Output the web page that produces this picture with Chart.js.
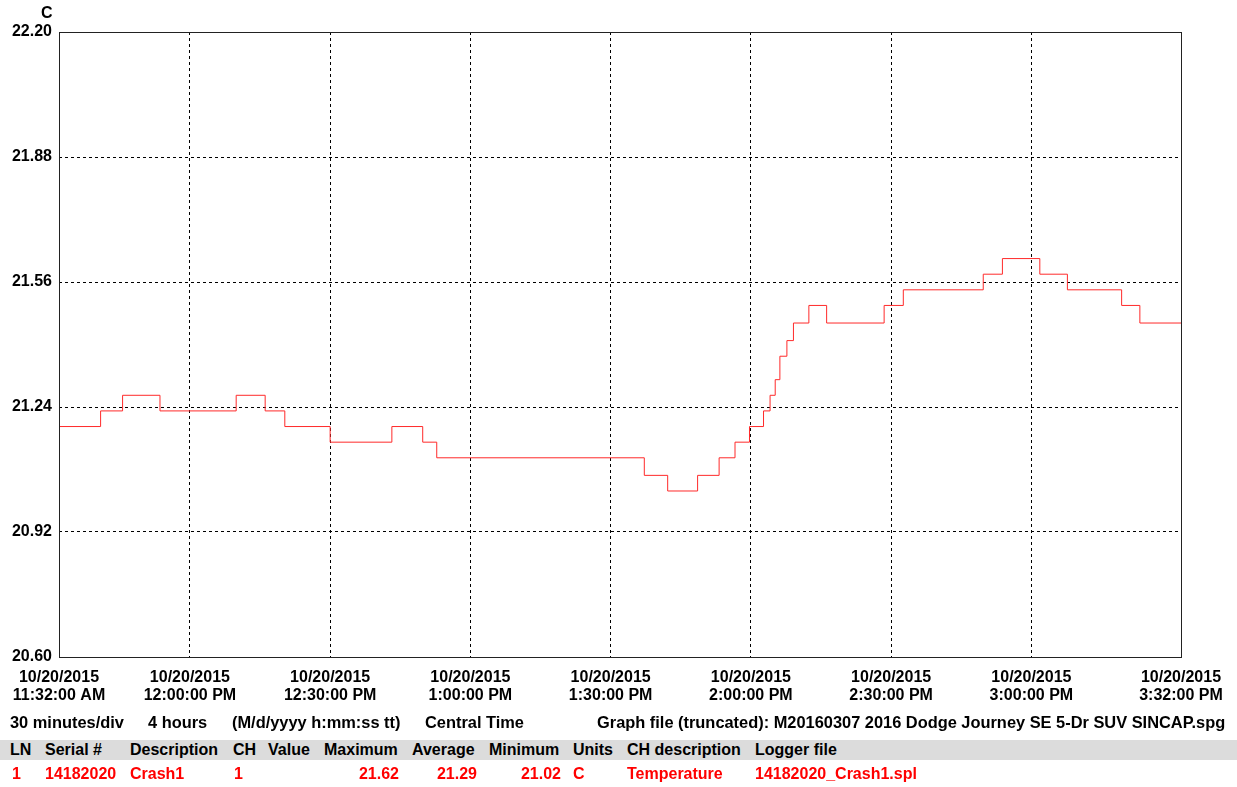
<!DOCTYPE html>
<html>
<head>
<meta charset="utf-8">
<script src="https://cdn.jsdelivr.net/npm/chart.js@4.4.1/dist/chart.umd.min.js"></script>
<style>
  html, body { margin: 0; padding: 0; background: #fff; }
  #wrap { position: relative; width: 1237px; height: 787px; overflow: hidden; font: bold 16px "Liberation Sans", Arial, sans-serif; }
  #wrap canvas { position: absolute; left: 0; top: 0; }
  .t { position: absolute; white-space: nowrap; line-height: 18px; height: 18px; }
  .w { font-size: 16.4px; }
  .r { color: #ff0000; }
  .ra { text-align: right; }
  #band { position: absolute; left: 0; top: 740px; width: 1237px; height: 20px; background: #dcdcdc; }
</style>
</head>
<body>
<div id="wrap">
  <canvas id="c" width="1237" height="787"></canvas>
  <div class="t" style="left:41px;top:4px;">C</div>

  <div class="t w" style="left:10px;top:713px;">30 minutes/div</div>
  <div class="t w" style="left:148px;top:713px;">4 hours</div>
  <div class="t w" style="left:232px;top:713px;">(M/d/yyyy h:mm:ss tt)</div>
  <div class="t w" style="left:425px;top:713px;">Central Time</div>
  <div class="t w" style="left:597px;top:713px;">Graph file (truncated): M20160307 2016 Dodge Journey SE 5-Dr SUV SINCAP.spg</div>

  <div id="band"></div>
  <div class="t" style="left:10px;top:741px;">LN</div>
  <div class="t" style="left:45px;top:741px;">Serial #</div>
  <div class="t" style="left:130px;top:741px;">Description</div>
  <div class="t" style="left:233px;top:741px;">CH</div>
  <div class="t" style="left:268px;top:741px;">Value</div>
  <div class="t" style="left:324px;top:741px;">Maximum</div>
  <div class="t" style="left:412px;top:741px;">Average</div>
  <div class="t" style="left:489px;top:741px;">Minimum</div>
  <div class="t" style="left:573px;top:741px;">Units</div>
  <div class="t" style="left:627px;top:741px;">CH description</div>
  <div class="t" style="left:755px;top:741px;">Logger file</div>

  <div class="t r" style="left:12px;top:765px;">1</div>
  <div class="t r" style="left:45px;top:765px;">14182020</div>
  <div class="t r" style="left:130px;top:765px;">Crash1</div>
  <div class="t r" style="left:234px;top:765px;">1</div>
  <div class="t r ra" style="left:300px;width:99px;top:765px;">21.62</div>
  <div class="t r ra" style="left:380px;width:97px;top:765px;">21.29</div>
  <div class="t r ra" style="left:460px;width:101px;top:765px;">21.02</div>
  <div class="t r" style="left:573px;top:765px;">C</div>
  <div class="t r" style="left:627px;top:765px;">Temperature</div>
  <div class="t r" style="left:755px;top:765px;">14182020_Crash1.spl</div>
</div>
<script>
// Time in minutes since 10/20/2015 11:32:00 AM at which each temperature level begins
const stepTimes = [0, 8.9, 13.6, 21.6, 37.9, 44.1, 48.3, 58.0, 71.2, 77.8, 80.8, 125.2, 130.2, 136.6, 141.2, 144.6, 147.7, 150.7, 152.1, 153.2, 154.2, 155.7, 157.1, 160.4, 164.2, 176.5, 180.6, 197.7, 201.8, 209.8, 215.7, 227.3, 231.2, 240];
// Temperature (C) of each level
const stepTemps = [21.19, 21.23, 21.27, 21.23, 21.27, 21.23, 21.19, 21.15, 21.19, 21.15, 21.11, 21.065, 21.025, 21.065, 21.11, 21.15, 21.19, 21.23, 21.27, 21.31, 21.37, 21.41, 21.455, 21.50, 21.455, 21.50, 21.54, 21.58, 21.62, 21.58, 21.54, 21.50, 21.455, 21.455];

const xTickMinutes = [0, 28, 58, 88, 118, 148, 178, 208, 240];
const xTickDates = ['10/20/2015', '10/20/2015', '10/20/2015', '10/20/2015', '10/20/2015', '10/20/2015', '10/20/2015', '10/20/2015', '10/20/2015'];
const xTickTimes = ['11:32:00 AM', '12:00:00 PM', '12:30:00 PM', '1:00:00 PM', '1:30:00 PM', '2:00:00 PM', '2:30:00 PM', '3:00:00 PM', '3:32:00 PM'];
const yTicks = [20.60, 20.92, 21.24, 21.56, 21.88, 22.20];

const points = stepTimes.map((t, i) => ({ x: t, y: stepTemps[i] }));

const framePlugin = {
  id: 'frame',
  afterDatasetsDraw(chart) {
    const a = chart.chartArea, ctx = chart.ctx;
    ctx.save();
    ctx.strokeStyle = '#222';
    ctx.lineWidth = 1;
    ctx.setLineDash([]);
    ctx.strokeRect(Math.round(a.left) + 0.5, Math.round(a.top) + 0.5, Math.round(a.right - a.left), Math.round(a.bottom - a.top));
    ctx.restore();
  }
};

const FONT = { family: '"Liberation Sans", Arial, sans-serif', size: 16, weight: 'bold', lineHeight: 1.12 };

new Chart(document.getElementById('c'), {
  type: 'line',
  data: {
    datasets: [{
      data: points,
      borderColor: '#ff2a2a',
      borderWidth: 1,
      pointRadius: 0,
      stepped: 'before',
      fill: false,
      tension: 0
    }]
  },
  options: {
    responsive: false,
    animation: false,
    events: [],
    layout: { padding: { left: 0, top: 32, right: 56, bottom: 70 } },
    plugins: { legend: { display: false }, tooltip: { enabled: false } },
    scales: {
      x: {
        type: 'linear',
        min: 0,
        max: 240,
        afterBuildTicks(scale) { scale.ticks = xTickMinutes.map(v => ({ value: v })); },
        afterFit(scale) { scale.height = 60; },
        ticks: {
          autoSkip: false,
          maxRotation: 0,
          minRotation: 0,
          padding: 12,
          color: '#000',
          font: FONT,
          callback(value, index) { return [xTickDates[index], xTickTimes[index]]; }
        },
        grid: {
          drawTicks: false,
          color(ctx) {
            const v = ctx.tick && ctx.tick.value;
            return (v === 0 || v === 240) ? 'rgba(0,0,0,0)' : '#000';
          },
          lineWidth: 1
        },
        border: { display: false, dash: [3, 3] }
      },
      y: {
        type: 'linear',
        min: 20.6,
        max: 22.2,
        afterBuildTicks(scale) { scale.ticks = yTicks.map(v => ({ value: v })); },
        afterFit(scale) { scale.width = 59; },
        ticks: {
          padding: 7,
          color: '#000',
          font: FONT,
          callback(value) { return Number(value).toFixed(2); }
        },
        grid: {
          drawTicks: false,
          color(ctx) {
            const v = ctx.tick && ctx.tick.value;
            return (Math.abs(v - 20.6) < 1e-6 || Math.abs(v - 22.2) < 1e-6) ? 'rgba(0,0,0,0)' : '#000';
          },
          lineWidth: 1
        },
        border: { display: false, dash: [3, 3] }
      }
    }
  },
  plugins: [framePlugin]
});
</script>
</body>
</html>
